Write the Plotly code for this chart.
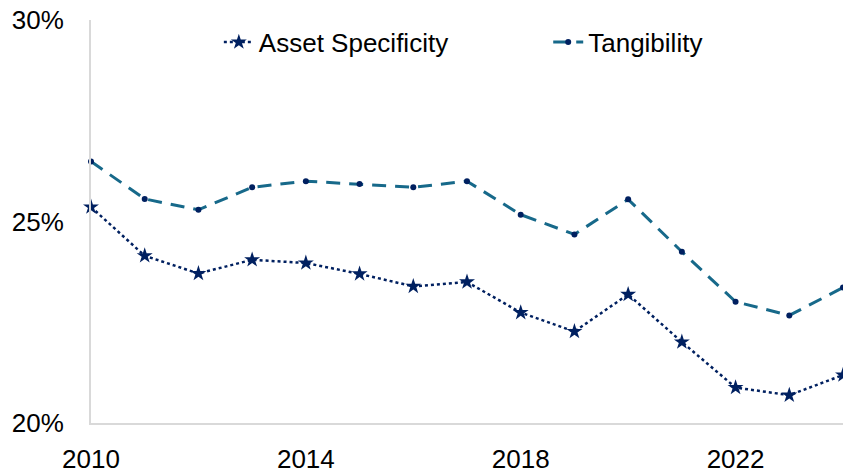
import plotly.graph_objects as go

years = list(range(2010, 2025))
asset_specificity = [25.36, 24.15, 23.71, 24.05, 23.97, 23.70, 23.39, 23.50, 22.74, 22.27, 23.19, 22.01, 20.88, 20.69, 21.19]
tangibility = [26.49, 25.56, 25.29, 25.85, 26.00, 25.93, 25.85, 26.00, 25.17, 24.68, 25.55, 24.25, 23.01, 22.67, 23.36]
y_ticks = [20, 25, 30]
y_tick_labels = ["20%", "25%", "30%"]
x_ticks = [2010, 2014, 2018, 2022]

FONT = "Liberation Sans, Arial, sans-serif"

fig = go.Figure()
fig.add_trace(go.Scatter(
    x=years, y=asset_specificity, name="Asset Specificity", mode="lines+markers",
    line=dict(color="#002060", width=2.5, dash="dot"),
    marker=dict(symbol="star", size=12, color="#002060"),
    cliponaxis=False, legend="legend",
))
fig.add_trace(go.Scatter(
    x=years, y=tangibility, name="Tangibility", mode="lines+markers",
    line=dict(color="#17698A", width=3, dash="14px,9px"),
    marker=dict(symbol="circle", size=6, color="#002060"),
    cliponaxis=False, legend="legend2",
))

leg_common = dict(
    orientation="h", yanchor="middle", y=0.945, xanchor="left",
    font=dict(family=FONT, size=26, color="#000000"),
    itemwidth=30, bgcolor="rgba(0,0,0,0)",
)

fig.update_layout(
    width=843, height=473,
    margin=dict(l=91, r=0, t=20, b=50),
    paper_bgcolor="white", plot_bgcolor="white",
    font=dict(family=FONT, size=26, color="#000000"),
    showlegend=True,
    legend=dict(x=0.17, **leg_common),
    legend2=dict(x=0.608, **leg_common),
    xaxis=dict(
        range=[2010, 2024], tickvals=x_ticks, ticktext=[str(v) for v in x_ticks],
        showgrid=False, zeroline=False, showline=True, linecolor="#D9D9D9", linewidth=2,
        ticks="", tickfont=dict(family=FONT, size=26), ticklabelstandoff=12,
        automargin=False, ticklabeloverflow="allow",
    ),
    yaxis=dict(
        range=[20, 30], tickvals=y_ticks, ticktext=y_tick_labels,
        showgrid=False, zeroline=False, showline=True, linecolor="#D9D9D9", linewidth=2,
        ticks="", tickfont=dict(family=FONT, size=26), ticklabelstandoff=20,
        automargin=False, ticklabeloverflow="allow",
    ),
)

fig.write_html(
    "out.html",
    config={"displayModeBar": False},
    post_script="document.body.style.margin='0';",
)
